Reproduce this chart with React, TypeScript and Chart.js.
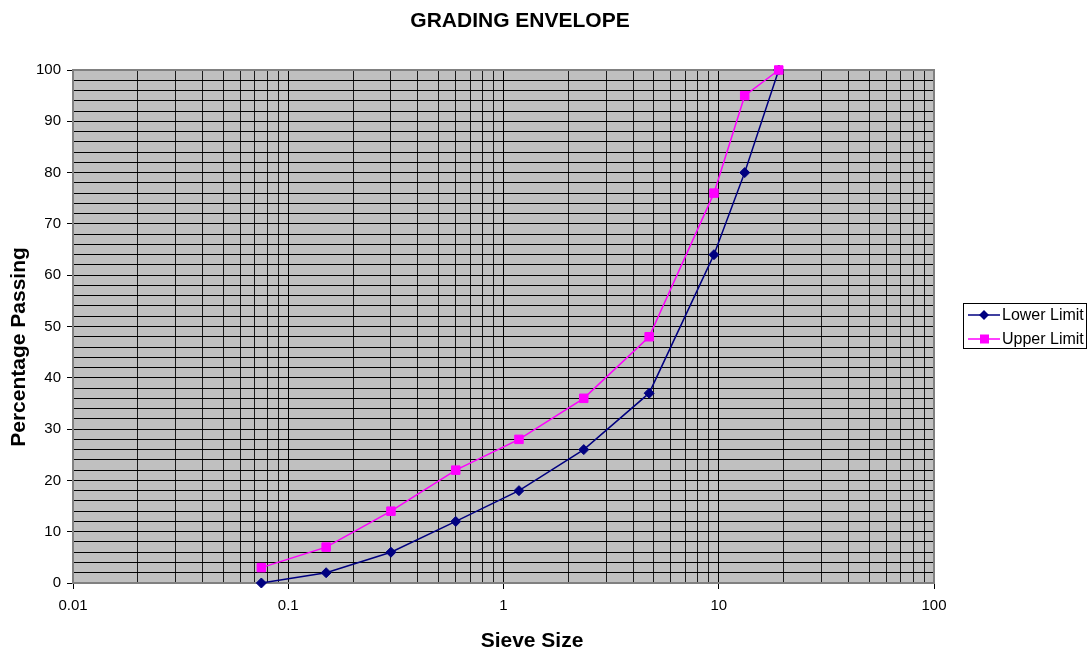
import React, { useEffect, useRef } from 'react';
import { Chart, registerables } from 'chart.js';

Chart.register(...registerables);

const chartTitle = 'GRADING ENVELOPE';
const xAxisTitle = 'Sieve Size';
const yAxisTitle = 'Percentage Passing';
const seriesNames = ['Lower Limit', 'Upper Limit'];

const sieveSizes = [0.075, 0.15, 0.3, 0.6, 1.18, 2.36, 4.75, 9.5, 13.2, 19];
const lowerLimit = [0, 2, 6, 12, 18, 26, 37, 64, 80, 100];
const upperLimit = [3, 7, 14, 22, 28, 36, 48, 76, 95, 100];

const xDecades = [0.01, 0.1, 1, 10, 100];
const xMultipliers = [1, 2, 3, 4, 5, 6, 7, 8, 9];
const yMajorTicks = [0, 10, 20, 30, 40, 50, 60, 70, 80, 90, 100];
const yMinorStep = 2;

const FONT = "'Liberation Sans', Arial, Helvetica, sans-serif";
const LOWER_COLOR = '#000080';
const UPPER_COLOR = '#FF00FF';

const xTickValues: number[] = [];
xDecades.slice(0, -1).forEach((d) => {
  xMultipliers.forEach((m) => xTickValues.push(Number((m * d).toPrecision(6))));
});
xTickValues.push(xDecades[xDecades.length - 1]);

const yTickValues: number[] = [];
for (let v = yMajorTicks[0]; v <= yMajorTicks[yMajorTicks.length - 1]; v += yMinorStep) yTickValues.push(v);

const isDecade = (v: number) => xDecades.some((d) => Math.abs(d - v) < d * 1e-6);
const isYMajor = (v: number) => yMajorTicks.includes(v);

const decorPlugin = {
  id: 'decor',
  beforeDraw(chart: any) {
    const { ctx, chartArea: a } = chart;
    ctx.save();
    ctx.fillStyle = '#C0C0C0';
    ctx.fillRect(a.left, a.top, a.right - a.left, a.bottom - a.top);
    ctx.restore();
  },
  beforeDatasetsDraw(chart: any) {
    const { ctx, chartArea: a } = chart;
    ctx.save();
    ctx.strokeStyle = '#808080';
    ctx.lineWidth = 2;
    ctx.strokeRect(a.left, a.top, a.right - a.left, a.bottom - a.top);
    ctx.restore();
  },
  afterDraw(chart: any) {
    const { ctx } = chart;
    ctx.save();
    ctx.fillStyle = '#000';
    ctx.font = `bold 21px ${FONT}`;
    ctx.textAlign = 'center';
    ctx.textBaseline = 'alphabetic';
    ctx.fillText(chartTitle, 520, 27);
    ctx.fillText(xAxisTitle, 532, 647);
    ctx.save();
    ctx.translate(25, 347);
    ctx.rotate(-Math.PI / 2);
    ctx.fillText(yAxisTitle, 0, 0);
    ctx.restore();

    const lx = 963.5, ly = 303.5, lw = 123, lh = 45;
    ctx.strokeStyle = '#000';
    ctx.lineWidth = 1;
    ctx.strokeRect(lx, ly, lw, lh);
    const rows = [
      { name: seriesNames[0], color: LOWER_COLOR, style: 'diamond', y: 315 },
      { name: seriesNames[1], color: UPPER_COLOR, style: 'square', y: 339 },
    ];
    rows.forEach((r) => {
      ctx.strokeStyle = r.color;
      ctx.lineWidth = 1.5;
      ctx.beginPath();
      ctx.moveTo(968, r.y);
      ctx.lineTo(1000, r.y);
      ctx.stroke();
      ctx.fillStyle = r.color;
      ctx.beginPath();
      if (r.style === 'diamond') {
        ctx.moveTo(984, r.y - 5);
        ctx.lineTo(989, r.y);
        ctx.lineTo(984, r.y + 5);
        ctx.lineTo(979, r.y);
        ctx.closePath();
      } else {
        ctx.rect(980, r.y - 4.5, 9, 9);
      }
      ctx.fill();
      ctx.fillStyle = '#000';
      ctx.font = `16px ${FONT}`;
      ctx.textAlign = 'left';
      ctx.textBaseline = 'middle';
      ctx.fillText(r.name, 1002, r.y + 1);
    });
    ctx.restore();
  },
};

export default function App() {
  const canvasRef = useRef<HTMLCanvasElement | null>(null);

  useEffect(() => {
    document.body.style.margin = '0';
    const canvas = canvasRef.current;
    if (!canvas) return;

    const chart = new Chart(canvas, {
      type: 'scatter',
      data: {
        datasets: [
          {
            label: seriesNames[0],
            data: sieveSizes.map((x, i) => ({ x, y: lowerLimit[i] })),
            showLine: true,
            borderColor: LOWER_COLOR,
            backgroundColor: LOWER_COLOR,
            borderWidth: 1.5,
            pointStyle: 'rectRot',
            pointRadius: 5,
            pointBorderWidth: 1,
            pointBorderColor: LOWER_COLOR,
            pointBackgroundColor: LOWER_COLOR,
            clip: false,
            order: 1,
          },
          {
            label: seriesNames[1],
            data: sieveSizes.map((x, i) => ({ x, y: upperLimit[i] })),
            showLine: true,
            borderColor: UPPER_COLOR,
            backgroundColor: UPPER_COLOR,
            borderWidth: 1.5,
            pointStyle: 'rect',
            pointRadius: 6,
            pointBorderWidth: 1,
            pointBorderColor: UPPER_COLOR,
            pointBackgroundColor: UPPER_COLOR,
            clip: false,
            order: 0,
          },
        ],
      },
      options: {
        responsive: false,
        animation: false,
        devicePixelRatio: 1,
        layout: { padding: { left: 0, top: 70, right: 157, bottom: 32 } },
        plugins: {
          legend: { display: false },
          title: { display: false },
          tooltip: { enabled: false },
        },
        scales: {
          x: {
            type: 'logarithmic',
            min: xDecades[0],
            max: xDecades[xDecades.length - 1],
            afterBuildTicks: (scale: any) => {
              scale.ticks = xTickValues.map((v) => ({ value: v }));
            },
            afterFit: (scale: any) => {
              scale.height = 40;
            },
            ticks: {
              autoSkip: false,
              maxRotation: 0,
              minRotation: 0,
              padding: 8,
              color: '#000',
              font: { family: FONT, size: 15 },
              callback: (value: any) => (isDecade(Number(value)) ? String(Number(value)) : ''),
            },
            grid: {
              color: (c: any) => (c.tick && isDecade(c.tick.value) ? '#000' : '#1a1a1a'),
              lineWidth: 1,
              drawTicks: true,
              tickLength: 6,
              tickColor: (c: any) => (c.tick && isDecade(c.tick.value) ? '#000' : 'rgba(0,0,0,0)'),
            },
            border: { display: false },
          },
          y: {
            type: 'linear',
            min: yMajorTicks[0],
            max: yMajorTicks[yMajorTicks.length - 1],
            afterBuildTicks: (scale: any) => {
              scale.ticks = yTickValues.map((v) => ({ value: v }));
            },
            afterFit: (scale: any) => {
              scale.width = 73;
            },
            ticks: {
              autoSkip: false,
              padding: 6,
              color: '#000',
              font: { family: FONT, size: 15 },
              callback: (value: any) => (isYMajor(Number(value)) ? String(value) : ''),
            },
            grid: {
              color: '#000',
              lineWidth: 1,
              drawTicks: true,
              tickLength: 6,
              tickColor: (c: any) => (c.tick && isYMajor(c.tick.value) ? '#000' : 'rgba(0,0,0,0)'),
            },
            border: { display: false },
          },
        },
      },
      plugins: [decorPlugin],
    });

    return () => {
      chart.destroy();
    };
  }, []);

  return (
    <div style={{ position: 'absolute', left: 0, top: 0, width: 1091, height: 655 }}>
      <canvas ref={canvasRef} width={1091} height={655} style={{ width: 1091, height: 655 }} />
    </div>
  );
}
